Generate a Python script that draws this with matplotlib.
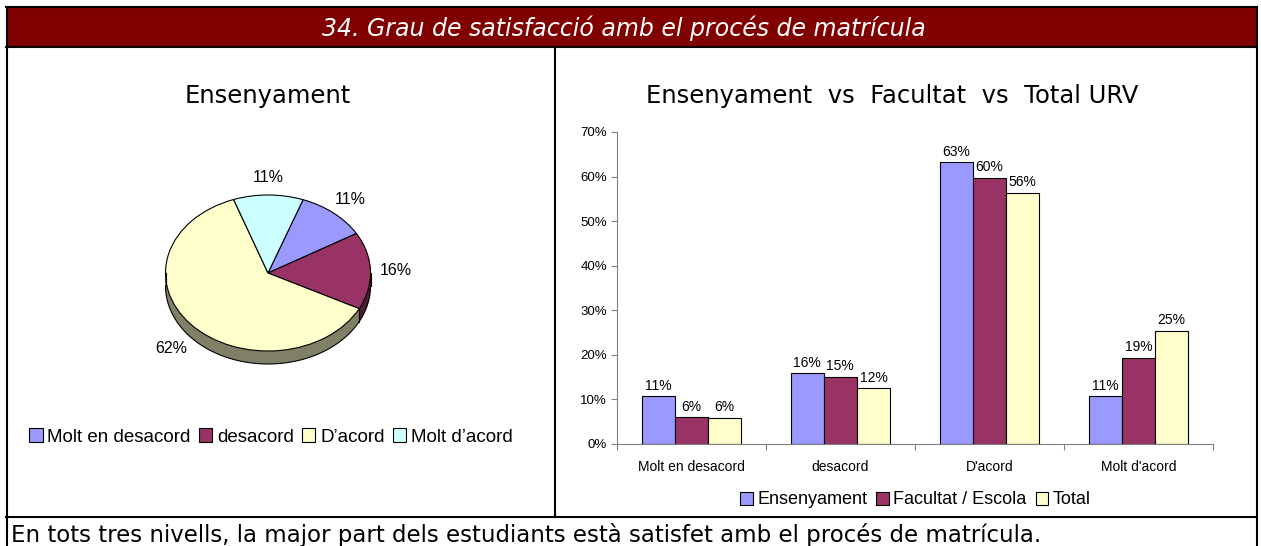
import numpy as np
import matplotlib
matplotlib.use('Agg')
import matplotlib.pyplot as plt
from matplotlib.patches import Rectangle

W, H = 1261, 546

# pie data (Ensenyament)
pie_labels = ['Molt en desacord', 'desacord', 'D\u2019acord', 'Molt d\u2019acord']
pie_values = [11, 16, 62, 11]
pie_colors = ['#9999ff', '#993366', '#ffffcc', '#ccffff']
side_colors = ['#4d4d80', '#4d1a33', '#808066', '#668080']

# bar data
categories = ['Molt en desacord', 'desacord', "D'acord", "Molt d'acord"]
series = ['Ensenyament', 'Facultat / Escola', 'Total']
ensenyament = [10.6, 15.8, 63.2, 10.6]
facultat = [5.9, 15.0, 59.7, 19.3]
total = [5.8, 12.4, 56.3, 25.4]
bar_colors = ['#9999ff', '#993366', '#ffffcc']

SANS = 'Liberation Sans'
VERD = 'DejaVu Sans'


def px_axes(x0, y0, x1, y1):
    return fig.add_axes([x0 / W, 1 - y1 / H, (x1 - x0) / W, (y1 - y0) / H])


fig = plt.figure(figsize=(W / 100, H / 100), dpi=100)

# -------------------------------------
# frame, header and footer text
bg = fig.add_axes([0, 0, 1, 1])
bg.set_xlim(0, W)
bg.set_ylim(H, 0)
bg.axis('off')
bg.add_patch(Rectangle((6, 7), 1251, 40, facecolor='#800000', edgecolor='none'))
lw = 1.5
bg.plot([6, 1257], [7, 7], color='black', lw=lw)
bg.plot([6, 1257], [47, 47], color='black', lw=lw)
bg.plot([6, 1257], [517, 517], color='black', lw=lw)
bg.plot([6.5, 6.5], [7, H], color='black', lw=lw)
bg.plot([1257, 1257], [7, H], color='black', lw=lw)
bg.plot([555, 555], [47, 517], color='black', lw=lw)

bg.text(624, 28, '34. Grau de satisfacció amb el procés de matrícula',
        color='white', fontsize=17, style='italic', family=VERD,
        ha='center', va='center')
bg.text(11, 542, 'En tots tres nivells, la major part dels estudiants està '
        'satisfet amb el procés de matrícula.',
        fontsize=16.5, family=VERD, ha='left', va='baseline')
bg.text(268, 103, 'Ensenyament', fontsize=17.5, family=VERD,
        ha='center', va='baseline')
bg.text(892, 103, 'Ensenyament  vs  Facultat  vs  Total URV', fontsize=17.5,
        family=VERD, ha='center', va='baseline')

# -------------------------------------
# 3d-ish pie
cx, cy, rx, ry = 268, 273, 102.5, 78
depth = 13 / ry
start = 70
pax = px_axes(140, 160, 400, 390)

n = 14
for k, frac in enumerate(np.linspace(1, 0, n, endpoint=False)):
    pax.pie(pie_values, colors=side_colors, startangle=start,
            counterclock=False, center=(0, -depth * frac),
            wedgeprops=dict(linewidth=0))
wedges, _ = pax.pie(pie_values, colors=pie_colors, startangle=start,
                    counterclock=False, center=(0, 0),
                    wedgeprops=dict(edgecolor='black', linewidth=0.8))

t = np.linspace(np.pi, 2 * np.pi, 200)
pax.plot(np.cos(t), np.sin(t) - depth, color='black', lw=0.8)
pax.plot([-1, -1], [0, -depth], color='black', lw=0.8)
pax.plot([1, 1], [0, -depth], color='black', lw=0.8)

tot = sum(pie_values)
angles = start - np.cumsum([0] + pie_values) * 360.0 / tot
for a in angles[1:-1]:
    r = np.radians(a)
    if np.sin(r) < 0:
        pax.plot([np.cos(r)] * 2, [np.sin(r), np.sin(r) - depth],
                 color='black', lw=0.8)

for i, v in enumerate(pie_values):
    mid = np.radians((angles[i] + angles[i + 1]) / 2)
    lx = 1.25 * np.cos(mid)
    ly = 1.22 * np.sin(mid)
    if ly < 0:
        ly -= depth
    pax.text(lx, ly, f'{round(v * 100 / tot)}%', fontsize=11.5,
             family=SANS, ha='center', va='center')

pax.set_aspect('auto')
pax.set_xlim((140 - cx) / rx, (400 - cx) / rx)
pax.set_ylim((cy - 390) / ry, (cy - 160) / ry)
pax.axis('off')

fig.legend(wedges, pie_labels, loc='center', bbox_to_anchor=(271 / W, 1 - 437 / H),
           ncol=4, frameon=False, prop={'family': SANS, 'size': 13.5},
           handlelength=0.7, handleheight=0.7, handletextpad=0.25,
           columnspacing=0.45, borderpad=0)

# -------------------------------------
# grouped bars
bax = px_axes(616.7, 132, 1213, 443.7)
bax.patch.set_alpha(0)
x = np.arange(len(categories))
width = 1 / 4.5
bars = []
for j, (vals, col) in enumerate(zip([ensenyament, facultat, total], bar_colors)):
    xs = x + (j - 1) * width
    b = bax.bar(xs, np.array(vals) / 100, width, color=col,
                edgecolor='black', linewidth=0.8)
    bars.append(b)
    for xx, v in zip(xs, vals):
        bax.text(xx, v / 100 + 0.008, f'{round(v)}%', ha='center',
                 va='bottom', fontsize=10, family=SANS)

bax.set_xlim(-0.5, len(categories) - 0.5)
bax.set_ylim(0, 0.70)
yt = np.arange(0, 0.71, 0.1)
bax.set_yticks(yt)
bax.set_yticklabels([f'{round(v * 100)}%' for v in yt], family=SANS, fontsize=9.5)
bax.set_xticks(np.arange(-0.5, len(categories), 1))
bax.set_xticklabels([])
bax.set_xticks(x, minor=True)
bax.set_xticklabels(categories, minor=True, family=SANS, fontsize=10)
bax.tick_params(axis='x', which='major', length=4, direction='out', color='#808080')
bax.tick_params(axis='x', which='minor', length=0, pad=12)
bax.tick_params(axis='y', length=4, direction='out', color='#808080', pad=3)
for s in ['top', 'right']:
    bax.spines[s].set_visible(False)
for s in ['left', 'bottom']:
    bax.spines[s].set_color('#808080')

fig.legend([b[0] for b in bars], series, loc='center',
           bbox_to_anchor=(915.5 / W, 1 - 500 / H), ncol=3, frameon=False,
           prop={'family': SANS, 'size': 13}, handlelength=0.7,
           handleheight=0.7, handletextpad=0.25, columnspacing=0.5,
           borderpad=0)

fig.savefig('out.png', dpi=100)
